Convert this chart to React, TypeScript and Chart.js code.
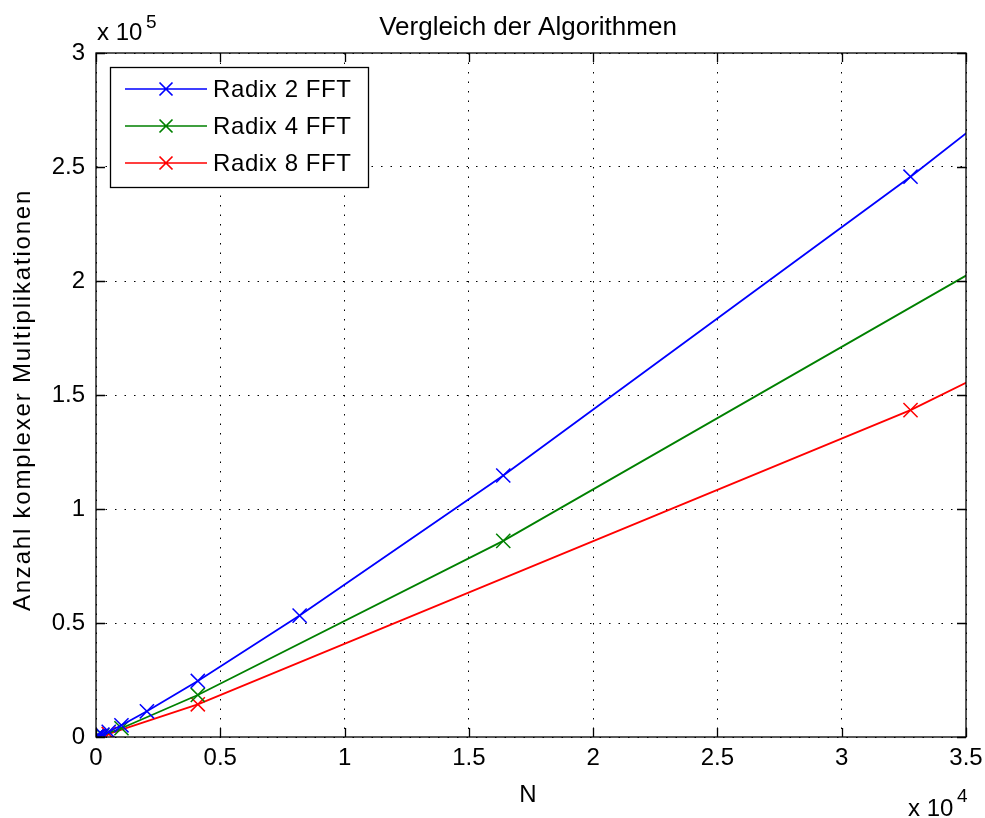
import React, { useEffect, useRef } from 'react';
import { Chart, registerables } from 'chart.js';

Chart.register(...registerables);

// ---- data ----
const radix2N = [2, 4, 8, 16, 32, 64, 128, 256, 512, 1024, 2048, 4096, 8192, 16384, 32768, 65536];
const radix2Mult = [1, 4, 12, 32, 80, 192, 448, 1024, 2304, 5120, 11264, 24576, 53248, 114688, 245760, 524288];
const radix4N = [4, 16, 64, 256, 1024, 4096, 16384, 65536];
const radix4Mult = [3, 24, 144, 768, 3840, 18432, 86016, 393216];
const radix8N = [8, 64, 512, 4096, 32768, 262144];
const radix8Mult = [7, 112, 1344, 14336, 143360, 1376256];

const seriesLabels = ['Radix 2 FFT', 'Radix 4 FFT', 'Radix 8 FFT'];
const seriesColors = ['#0000ff', '#008000', '#ff0000'];

const chartTitle = 'Vergleich der Algorithmen';
const xAxisTitle = 'N';
const yAxisTitle = 'Anzahl komplexer Multiplikationen';
const xTickValues = [0, 5000, 10000, 15000, 20000, 25000, 30000, 35000];
const yTickValues = [0, 50000, 100000, 150000, 200000, 250000, 300000];
const xExponent = '4';
const yExponent = '5';

const FONT = '"Liberation Sans", Arial, Helvetica, sans-serif';

const toPoints = (xs: number[], ys: number[]) => xs.map((x, i) => ({ x, y: ys[i] }));

const matlabPlugin = {
  id: 'matlabDecor',
  afterDatasetsDraw(chart: any) {
    const ctx: CanvasRenderingContext2D = chart.ctx;
    const { left, right, top, bottom } = chart.chartArea;
    const xs = chart.scales.x;
    const ys = chart.scales.y;
    ctx.save();
    // box
    ctx.strokeStyle = '#000';
    ctx.lineWidth = 1.3;
    ctx.setLineDash([]);
    ctx.strokeRect(left, top, right - left, bottom - top);
    // inner ticks
    const tl = 9;
    ctx.beginPath();
    xTickValues.forEach((v) => {
      const px = Math.round(xs.getPixelForValue(v)) + 0.5;
      ctx.moveTo(px, bottom);
      ctx.lineTo(px, bottom - tl);
      ctx.moveTo(px, top);
      ctx.lineTo(px, top + tl);
    });
    yTickValues.forEach((v) => {
      const py = Math.round(ys.getPixelForValue(v)) + 0.5;
      ctx.moveTo(left, py);
      ctx.lineTo(left + tl, py);
      ctx.moveTo(right, py);
      ctx.lineTo(right - tl, py);
    });
    ctx.stroke();

    // legend
    const lx = 110, ly = 67, lw = 258, lh = 120;
    ctx.fillStyle = '#fff';
    ctx.fillRect(lx, ly, lw, lh);
    ctx.strokeStyle = '#000';
    ctx.lineWidth = 1.3;
    ctx.strokeRect(lx + 0.5, ly + 0.5, lw, lh);
    const rowY = [89, 126, 163];
    ctx.font = `24px ${FONT}`;
    ctx.textBaseline = 'middle';
    ctx.textAlign = 'left';
    seriesLabels.forEach((lab, i) => {
      const y = rowY[i];
      ctx.strokeStyle = seriesColors[i];
      ctx.lineWidth = 1.7;
      ctx.beginPath();
      ctx.moveTo(125, y);
      ctx.lineTo(207, y);
      const m = 6.5;
      ctx.moveTo(166 - m, y - m);
      ctx.lineTo(166 + m, y + m);
      ctx.moveTo(166 - m, y + m);
      ctx.lineTo(166 + m, y - m);
      ctx.stroke();
      ctx.fillStyle = '#000';
      (ctx as any).letterSpacing = '0.6px';
      ctx.fillText(lab, 213, y + 1);
      (ctx as any).letterSpacing = '0px';
    });

    // title
    ctx.fillStyle = '#000';
    ctx.textAlign = 'center';
    ctx.textBaseline = 'alphabetic';
    ctx.font = `26px ${FONT}`;
    ctx.fillText(chartTitle, 528, 35);

    // x label
    ctx.font = `24px ${FONT}`;
    ctx.fillText(xAxisTitle, 528, 802);

    // y label
    ctx.save();
    ctx.translate(30, 400);
    ctx.rotate(-Math.PI / 2);
    ctx.textAlign = 'center';
    ctx.textBaseline = 'alphabetic';
    (ctx as any).letterSpacing = '1.8px';
    ctx.fillText(yAxisTitle, 0, 0);
    (ctx as any).letterSpacing = '0px';
    ctx.restore();

    // exponents
    ctx.textAlign = 'left';
    ctx.font = `24px ${FONT}`;
    ctx.fillText('x 10', 97, 40);
    ctx.font = `19px ${FONT}`;
    ctx.fillText(yExponent, 146, 28);
    ctx.font = `24px ${FONT}`;
    ctx.fillText('x 10', 908, 816);
    ctx.font = `19px ${FONT}`;
    ctx.fillText(xExponent, 957, 802);

    ctx.restore();
  },
};

export default function App() {
  const ref = useRef<HTMLCanvasElement | null>(null);
  useEffect(() => {
    if (!ref.current) return;
    const mk = (i: number, data: { x: number; y: number }[]) => ({
      label: seriesLabels[i],
      data,
      borderColor: seriesColors[i],
      backgroundColor: seriesColors[i],
      borderWidth: 1.8,
      pointStyle: 'crossRot',
      pointRadius: 10,
      pointBorderWidth: 1.5,
      pointBorderColor: seriesColors[i],
      showLine: true,
      fill: false,
      tension: 0,
    });
    const chart = new Chart(ref.current, {
      type: 'scatter',
      data: {
        datasets: [
          mk(0, toPoints(radix2N, radix2Mult)),
          mk(1, toPoints(radix4N, radix4Mult)),
          mk(2, toPoints(radix8N, radix8Mult)),
        ],
      },
      options: {
        responsive: false,
        animation: false,
        layout: { padding: { top: 53, right: 19, left: 0, bottom: 0 } },
        plugins: {
          legend: { display: false },
          title: { display: false },
          tooltip: { enabled: false },
        },
        scales: {
          x: {
            type: 'linear',
            min: 0,
            max: 35000,
            afterFit: (s: any) => { s.height = 81; s.paddingRight = 0; s.paddingLeft = 0; },
            afterBuildTicks: (s: any) => { s.ticks = xTickValues.map((v) => ({ value: v })); },
            ticks: {
              autoSkip: false,
              maxRotation: 0,
              padding: 7,
              color: '#000',
              font: { family: FONT, size: 24 },
              callback: (v: any) => String(Number(v) / 1e4),
            },
            grid: { color: '#000', lineWidth: 1, drawTicks: false },
            border: { display: false, dash: [1.5, 8] },
          },
          y: {
            type: 'linear',
            min: 0,
            max: 300000,
            afterFit: (s: any) => { s.width = 96; s.paddingTop = 0; s.paddingBottom = 0; },
            afterBuildTicks: (s: any) => { s.ticks = yTickValues.map((v) => ({ value: v })); },
            ticks: {
              autoSkip: false,
              padding: 11,
              color: '#000',
              font: { family: FONT, size: 24 },
              callback: (v: any) => String(Number(v) / 1e5),
            },
            grid: { color: '#000', lineWidth: 1, drawTicks: false },
            border: { display: false, dash: [1.5, 8] },
          },
        },
      },
      plugins: [matlabPlugin],
    } as any);
    return () => chart.destroy();
  }, []);
  return (
    <div style={{ position: 'absolute', left: 0, top: 0, width: 985, height: 818, background: '#fff' }}>
      <canvas ref={ref} width={985} height={818} />
    </div>
  );
}
